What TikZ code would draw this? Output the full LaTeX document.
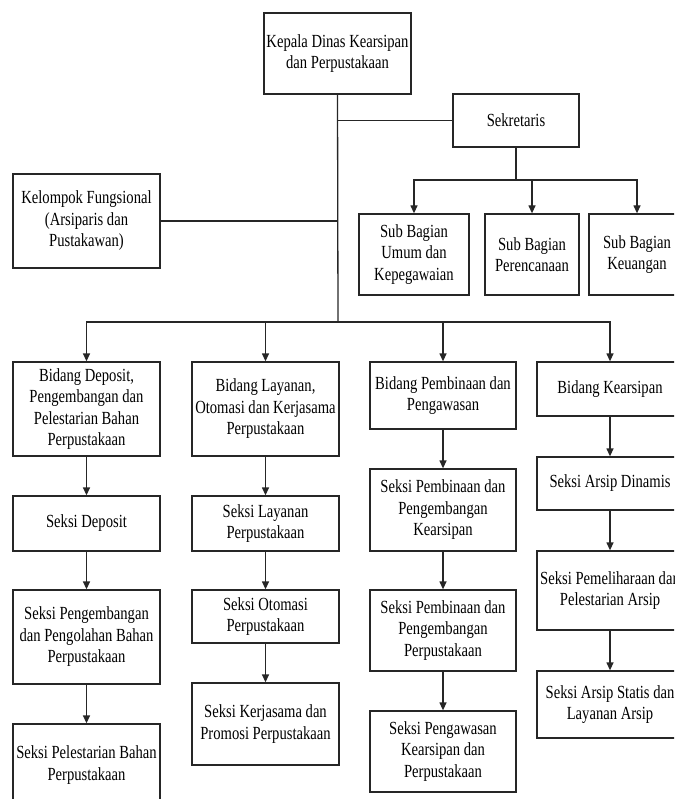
\documentclass[tikz,border=0pt]{standalone}
\usepackage{fontspec}
\setmainfont{Liberation Serif}[FakeStretch=0.79]
\usetikzlibrary{arrows.meta}
\begin{document}
\begin{tikzpicture}[x=1pt,y=-1pt,
  box/.style={draw=black!85,line width=1.3pt,fill=white,inner sep=0pt,align=center,
    font=\fontsize{18.5}{21.5}\selectfont,anchor=center},
  ln/.style={draw=black!85,line width=1.3pt},
  arr/.style={ln,-{Triangle[length=8pt,width=7pt]}}]
\useasboundingbox (0,0) rectangle (674,799);
\clip (0,0) rectangle (674,799);
% top
\node[box,minimum width=147pt,minimum height=81pt] (kep) at (337.5,53.5) {Kepala Dinas Kearsipan\\dan Perpustakaan};
\node[box,minimum width=126pt,minimum height=53pt] (sek) at (516,120.5) {Sekretaris};
\node[box,minimum width=147pt,minimum height=94pt] (kel) at (86.5,221) {Kelompok Fungsional\\(Arsiparis dan\\Pustakawan)};
\node[box,minimum width=110pt,minimum height=81pt] (sub1) at (414,254.5) {Sub Bagian\\Umum dan\\Kepegawaian};
\node[box,minimum width=94pt,minimum height=81pt] (sub2) at (532,254.5) {Sub Bagian\\Perencanaan};
\node[box,minimum width=96pt,minimum height=81pt] (sub3) at (637,254.5) {Sub Bagian\\Keuangan};
% bidang
\node[box,minimum width=147pt,minimum height=94pt] (b1) at (86.5,409) {Bidang Deposit,\\Pengembangan dan\\Pelestarian Bahan\\Perpustakaan};
\node[box,minimum width=147pt,minimum height=94pt] (b2) at (265.5,409) {Bidang Layanan,\\Otomasi dan Kerjasama\\Perpustakaan};
\node[box,minimum width=146pt,minimum height=67pt] (b3) at (443,395.5) {Bidang Pembinaan dan\\Pengawasan};
\node[box,minimum width=146pt,minimum height=54pt] (b4) at (610,389) {Bidang Kearsipan};
% col 1
\node[box,minimum width=147pt,minimum height=55pt] (s11) at (86.5,523.5) {Seksi Deposit};
\node[box,minimum width=147pt,minimum height=94pt] (s12) at (86.5,637) {Seksi Pengembangan\\dan Pengolahan Bahan\\Perpustakaan};
\node[box,minimum width=147pt,minimum height=82pt] (s13) at (86.5,765) {Seksi Pelestarian Bahan\\Perpustakaan};
% col 2
\node[box,minimum width=147pt,minimum height=55pt] (s21) at (265.5,523.5) {Seksi Layanan\\Perpustakaan};
\node[box,minimum width=147pt,minimum height=53pt] (s22) at (265.5,616.5) {Seksi Otomasi\\Perpustakaan};
\node[box,minimum width=147pt,minimum height=82pt] (s23) at (265.5,724) {Seksi Kerjasama dan\\Promosi Perpustakaan};
% col 3
\node[box,minimum width=146pt,minimum height=82pt] (s31) at (443,510) {Seksi Pembinaan dan\\Pengembangan\\Kearsipan};
\node[box,minimum width=146pt,minimum height=81pt] (s32) at (443,630.5) {Seksi Pembinaan dan\\Pengembangan\\Perpustakaan};
\node[box,minimum width=146pt,minimum height=81pt] (s33) at (443,751.5) {Seksi Pengawasan\\Kearsipan dan\\Perpustakaan};
% col 4
\node[box,minimum width=146pt,minimum height=53pt] (s41) at (610,483.5) {Seksi Arsip Dinamis};
\node[box,minimum width=146pt,minimum height=79pt] (s42) at (610,590.5) {Seksi Pemeliharaan dan\\Pelestarian Arsip};
\node[box,minimum width=146pt,minimum height=67pt] (s43) at (610,704.5) {Seksi Arsip Statis dan\\Layanan Arsip};
% connectors
\coordinate (bus) at (338,322);
\coordinate (sj) at (516,180);
\draw[ln] (kep.south) -- (bus);
\draw[ln] (kep.south |- sek.west) -- (sek.west);
\draw[ln] (kel.east) -- (kel.east -| kep.south);
\draw[ln] (sek.south) -- (sj);
\draw[arr] (sj) -| (sub1.north);
\draw[arr] (sj) -| (sub2.north);
\draw[arr] (sj) -| (sub3.north);
\draw[arr] (bus) -| (b1.north);
\draw[arr] (bus) -| (b2.north);
\draw[arr] (bus) -| (b3.north);
\draw[arr] (bus) -| (b4.north);
\draw[arr] (b1) -- (s11);
\draw[arr] (s11) -- (s12);
\draw[arr] (s12) -- (s13);
\draw[arr] (b2) -- (s21);
\draw[arr] (s21) -- (s22);
\draw[arr] (s22) -- (s23);
\draw[arr] (b3) -- (s31);
\draw[arr] (s31) -- (s32);
\draw[arr] (s32) -- (s33);
\draw[arr] (b4) -- (s41);
\draw[arr] (s41) -- (s42);
\draw[arr] (s42) -- (s43);
\end{tikzpicture}
\end{document}
